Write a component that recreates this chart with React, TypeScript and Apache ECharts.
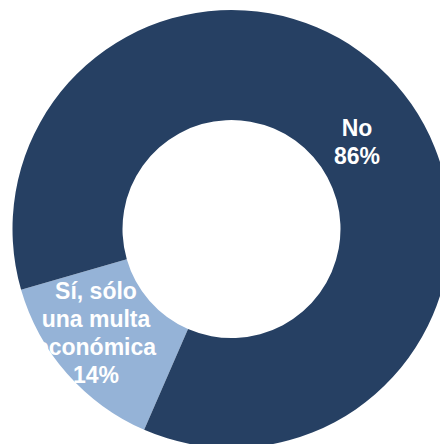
import React, { useEffect, useRef } from "react";
import * as echarts from "echarts";

const categories = ["Sí, sólo\nuna multa\neconómica", "No"];
const values = [14, 86];
const colors = ["#95B3D7", "#264063"];

export default function App() {
  const ref = useRef<HTMLDivElement>(null);
  useEffect(() => {
    if (!ref.current) return;
    const chart = echarts.init(ref.current, undefined, { renderer: "svg" });
    const labelPos = [
      { x: 96, y: 333 },
      { x: 357, y: 142 },
    ];
    chart.setOption({
      animation: false,
      backgroundColor: "#ffffff",
      series: [
        {
          type: "pie",
          center: [231.5, 229],
          radius: [109, 219],
          startAngle: 246.5,
          clockwise: true,
          avoidLabelOverlap: false,
          itemStyle: { borderWidth: 0 },
          label: {
            show: true,
            position: "inside",
            color: "#ffffff",
            fontWeight: "bold",
            fontSize: 23,
            lineHeight: 28,
            fontFamily: "Liberation Sans, Arial, sans-serif",
            align: "center",
            verticalAlign: "middle",
            formatter: (p: any) => `${p.name}\n${p.value}%`,
          },
          labelLine: { show: false },
          labelLayout: (params: any) => labelPos[params.dataIndex],
          emphasis: { disabled: true },
          data: categories.map((c, i) => ({
            name: c,
            value: values[i],
            itemStyle: { color: colors[i] },
          })),
        },
      ],
    });
    return () => chart.dispose();
  }, []);
  return (
    <div
      ref={ref}
      style={{ position: "fixed", left: 0, top: 0, width: 440, height: 444 }}
    />
  );
}
